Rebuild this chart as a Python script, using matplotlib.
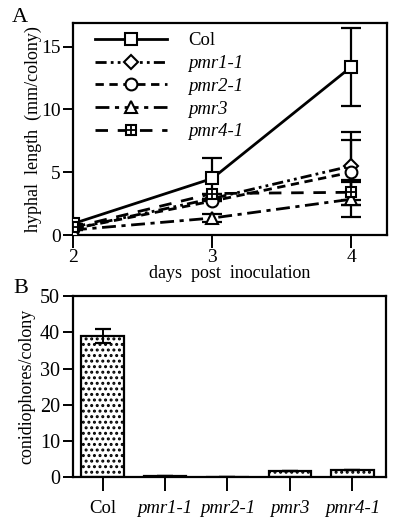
import matplotlib
matplotlib.use("Agg")
import matplotlib.pyplot as plt
import numpy as np
from matplotlib.legend_handler import HandlerTuple

plt.rcParams['font.family'] = ['Liberation Serif', 'DejaVu Serif']
plt.rcParams['hatch.linewidth'] = 1.4

# Panel A data
days = [2, 3, 4]
series_names = ["Col", "pmr1-1", "pmr2-1", "pmr3", "pmr4-1"]
col_vals = [0.9, 4.5, 13.4]
col_err = [0.0, 1.6, 3.1]
pmr1_vals = [0.5, 2.9, 5.5]
pmr1_err = [0.0, 0.0, 2.7]
pmr2_vals = [0.5, 2.7, 5.0]
pmr2_err = [0.0, 0.0, 2.6]
pmr3_vals = [0.4, 1.35, 2.85]
pmr3_err = [0.0, 0.3, 1.4]
pmr4_vals = [0.6, 3.3, 3.4]
pmr4_err = [0.0, 0.0, 1.0]

# Panel B data
genotypes = ["Col", "pmr1-1", "pmr2-1", "pmr3", "pmr4-1"]
conidiophores = [39.0, 0.3, 0.0, 1.7, 1.9]
conid_err = [1.9, 0.0, 0.0, 0.0, 0.0]

fig = plt.figure(figsize=(4.0, 5.22), dpi=100)

axA = fig.add_axes([0.1825, 0.5498, 0.785, 0.4067])
styles = [
    (col_vals, col_err, 's', '-', 8),
    (pmr1_vals, pmr1_err, 'D', (0, (4, 1.5, 1, 1.5, 1, 1.5)), 7),
    (pmr2_vals, pmr2_err, 'o', (0, (3, 2)), 8.5),
    (pmr3_vals, pmr3_err, '^', (0, (5, 2, 1.5, 2)), 8.5),
    (pmr4_vals, pmr4_err, 's', (0, (4.5, 3.5)), 7.5),
]
handles = []
for (vals, err, mk, ls, ms), name in zip(styles, series_names):
    axA.errorbar(days, vals, yerr=err, fmt='none', ecolor='black',
                 elinewidth=1.6, capsize=7, capthick=1.6, zorder=2)
    ln, = axA.plot(days, vals, color='black', linestyle=ls, linewidth=2.0,
                   marker=mk, markersize=ms, markerfacecolor='white',
                   markeredgecolor='black', markeredgewidth=1.5, zorder=3)
    if name == "pmr4-1":
        pl, = axA.plot(days, vals, color='black', linestyle='none',
                       marker='+', markersize=ms, markeredgewidth=1.3, zorder=4)
        handles.append((ln, pl))
    else:
        handles.append(ln)

axA.set_xlim(2, 4.255)
axA.set_ylim(0, 16.9)
axA.set_xticks([2, 3, 4])
axA.set_yticks([0, 5, 10, 15])
axA.tick_params(direction='out', length=7, width=1.4, labelsize=14, pad=2)
axA.tick_params(axis='x', length=9, pad=1)
for s in axA.spines.values():
    s.set_linewidth(1.6)
axA.set_ylabel("hyphal  length  (mm/colony)", fontsize=13)
axA.yaxis.set_label_coords(-0.1, 0.5)
axA.set_xlabel("days  post  inoculation", fontsize=13, labelpad=-1)
leg = axA.legend(handles, series_names, loc='upper left', frameon=False,
                 handlelength=3.85, handletextpad=1.1, labelspacing=0.3,
                 fontsize=13.5, borderaxespad=0.0, borderpad=0.0,
                 bbox_to_anchor=(0.07, 0.955),
                 handler_map={tuple: HandlerTuple(ndivide=1)})
for t in leg.get_texts():
    if t.get_text() != "Col":
        t.set_style('italic')
fig.text(0.03, 0.967, "A", fontsize=16, va='center', ha='left')

axB = fig.add_axes([0.1818, 0.0856, 0.7832, 0.3474])
x = np.arange(len(genotypes))
axB.bar(x, conidiophores, width=0.68, color='white', edgecolor='black',
        linewidth=1.6, hatch='...', zorder=2)
axB.errorbar(x, conidiophores, yerr=conid_err, fmt='none', ecolor='black',
             elinewidth=1.4, capsize=6, capthick=1.6, zorder=3)
axB.set_xlim(-0.48, 4.54)
axB.set_ylim(0, 50)
axB.set_xticks(x)
axB.set_xticklabels(genotypes)
for i, t in enumerate(axB.get_xticklabels()):
    if i > 0:
        t.set_style('italic')
axB.set_yticks([0, 10, 20, 30, 40, 50])
axB.tick_params(direction='out', length=7, width=1.4, labelsize=14.5, pad=2)
axB.tick_params(axis='x', length=10, labelsize=13.5, pad=6)
for s in axB.spines.values():
    s.set_linewidth(1.6)
axB.set_ylabel("conidiophores/colony", fontsize=13)
axB.yaxis.set_label_coords(-0.118, 0.5)
fig.text(0.033, 0.448, "B", fontsize=16, va='center', ha='left')

fig.savefig("out.png", dpi=100)
